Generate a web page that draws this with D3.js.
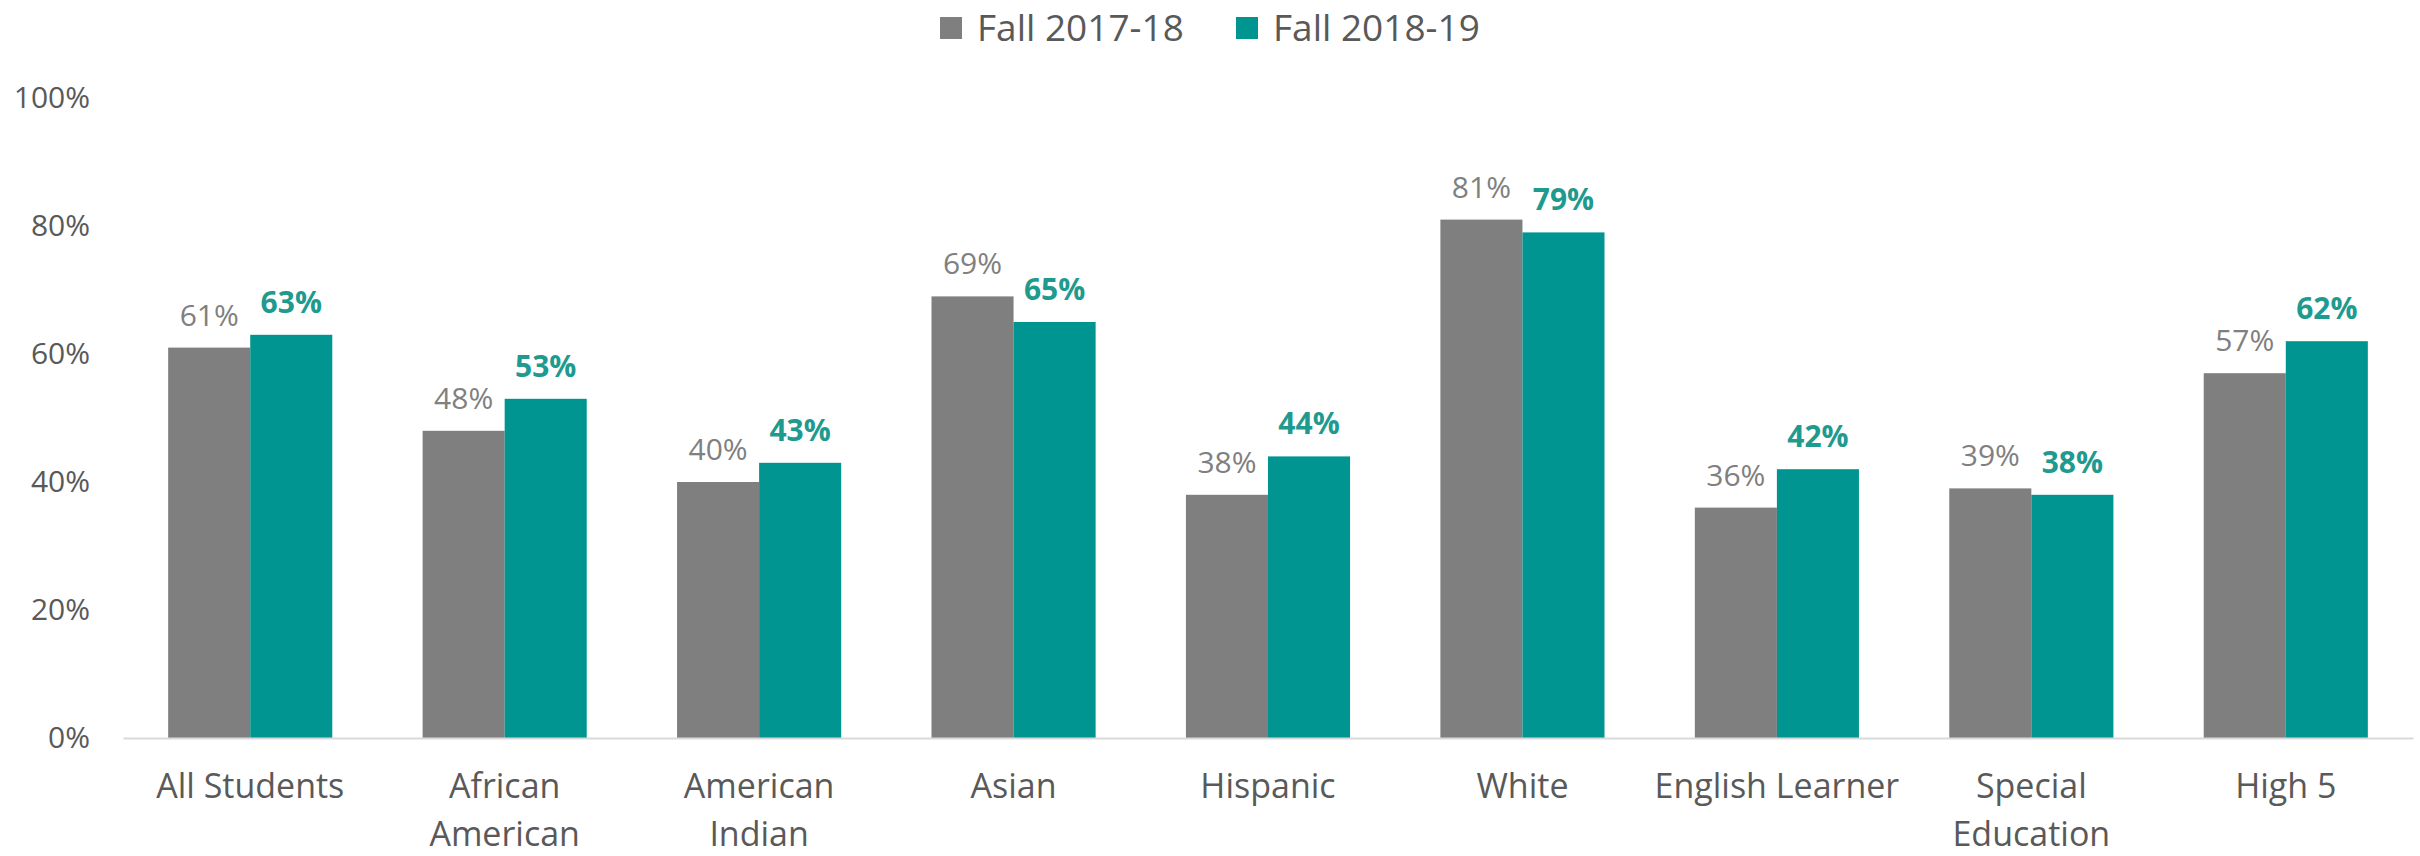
<!DOCTYPE html>
<html>
<head>
<meta charset="utf-8">
<script src="https://cdn.jsdelivr.net/npm/d3@7"></script>
<style>
  html, body { margin: 0; padding: 0; background: #ffffff; }
  svg { display: block; font-family: "Open Sans", sans-serif; }
</style>
</head>
<body>
<svg id="chart" width="2420" height="856"></svg>
<script>
// Student groups along the x axis, with the line breaks used for their labels
const categories = ["All Students", "African American", "American Indian", "Asian", "Hispanic", "White", "English Learner", "Special Education", "High 5"];
const categoryLines = [["All Students"], ["African", "American"], ["American", "Indian"], ["Asian"], ["Hispanic"], ["White"], ["English Learner"], ["Special", "Education"], ["High 5"]];

// Percent of students per group, by fall term
const seriesNames = ["Fall 2017-18", "Fall 2018-19"];
const fall2017 = [61, 48, 40, 69, 38, 81, 36, 39, 57];
const fall2018 = [63, 53, 43, 65, 44, 79, 42, 38, 62];

// Y axis tick values (percent)
const yTicks = [0, 20, 40, 60, 80, 100];

const barColors = ["#7f7f7f", "#009590"];
const labelColors = ["#808080", "#1e9a8f"];
const labelWeights = [400, 700];

const svg = d3.select("#chart");

const plot = { left: 123, right: 2413, top: 98, bottom: 738 };

const x0 = d3.scaleBand()
  .domain(categories)
  .range([plot.left, plot.right])
  .paddingInner(0.355)
  .paddingOuter(0.1775);

const x1 = d3.scaleBand()
  .domain(seriesNames)
  .range([0, x0.bandwidth()])
  .padding(0);

const y = d3.scaleLinear()
  .domain([0, 100])
  .range([plot.bottom, plot.top]);

const rows = categories.map((c, i) => ({
  category: c,
  values: [
    { series: seriesNames[0], value: fall2017[i], idx: 0 },
    { series: seriesNames[1], value: fall2018[i], idx: 1 }
  ]
}));

// Y axis: labels only, no domain line or tick marks
const yAxis = svg.append("g")
  .attr("transform", `translate(${plot.left},0)`)
  .call(d3.axisLeft(y).tickValues(yTicks).tickSize(0).tickPadding(33).tickFormat(d => d + "%"));
yAxis.select(".domain").remove();
yAxis.selectAll("text")
  .attr("fill", "#595959")
  .style("font-size", "30px")
  .style("font-family", "'Open Sans', sans-serif");

// Bars
const groups = svg.append("g")
  .selectAll("g")
  .data(rows)
  .join("g")
  .attr("transform", d => `translate(${x0(d.category)},0)`);

groups.selectAll("rect")
  .data(d => d.values)
  .join("rect")
  .attr("x", d => x1(d.series))
  .attr("y", d => y(d.value))
  .attr("width", x1.bandwidth())
  .attr("height", d => y(0) - y(d.value))
  .attr("fill", d => barColors[d.idx]);

// Value labels above the bars
groups.selectAll("text.value")
  .data(d => d.values)
  .join("text")
  .attr("class", "value")
  .attr("x", d => x1(d.series) + x1.bandwidth() / 2)
  .attr("y", d => y(d.value) - 22)
  .attr("text-anchor", "middle")
  .attr("fill", d => labelColors[d.idx])
  .style("font-size", "30px")
  .style("font-weight", d => labelWeights[d.idx])
  .text(d => d.value + "%");

// X axis: light baseline with category labels
const xAxis = svg.append("g")
  .attr("transform", `translate(0,${plot.bottom})`)
  .call(d3.axisBottom(x0).tickSize(0).tickSizeOuter(0).tickFormat(""));
xAxis.select(".domain")
  .attr("stroke", "#d9d9d9")
  .attr("stroke-width", 2);

xAxis.selectAll(".tick").each(function (d, i) {
  const t = d3.select(this).select("text")
    .attr("y", 0)
    .attr("dy", null)
    .attr("fill", "#595959")
    .style("font-size", "34px")
    .style("font-family", "'Open Sans', sans-serif");
  categoryLines[i].forEach((line, k) => {
    t.append("tspan")
      .attr("x", 0)
      .attr("y", 60 + k * 48)
      .text(line);
  });
});

// Legend, centred at the top
const legend = svg.append("g").attr("transform", "translate(940,0)");
const legendX = [0, 296];
seriesNames.forEach((name, i) => {
  const g = legend.append("g").attr("transform", `translate(${legendX[i]},0)`);
  g.append("rect")
    .attr("x", 0)
    .attr("y", 17)
    .attr("width", 22)
    .attr("height", 22)
    .attr("fill", barColors[i]);
  g.append("text")
    .attr("x", 37)
    .attr("y", 41)
    .attr("fill", "#595959")
    .style("font-size", "37px")
    .text(name);
});
</script>
</body>
</html>
